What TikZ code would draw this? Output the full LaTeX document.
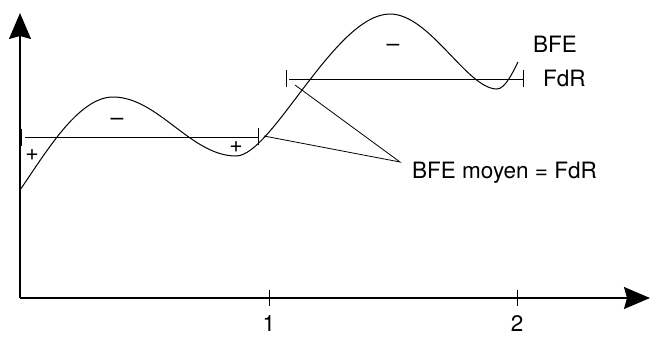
\documentclass[tikz,border=0pt]{standalone}
\usepackage{fontspec}
\setmainfont{TeX Gyre Heros}
\usetikzlibrary{arrows.meta}
\begin{document}
\begin{tikzpicture}[x=1pt,y=-1pt,
  axis/.style={line width=1.4pt,-{Stealth[length=26pt,width=22pt,inset=3pt]}},
  curve/.style={line width=1pt},
  meanline/.style={line width=1pt},
  tickmark/.style={line width=1pt},
  leader/.style={line width=0.8pt},
  lbl/.style={font=\fontsize{22.5}{26}\selectfont, inner sep=0pt},
  sign/.style={font=\fontsize{23}{26}\selectfont, inner sep=0pt}]
\useasboundingbox (0,0) rectangle (650,338);
% axes
\coordinate (O) at (20,298);
\coordinate (Ytop) at (20,13);
\coordinate (Xend) at (650,298);
\draw[axis] (O) -- (Ytop);
\draw[axis] (O) -- (Xend);
% ticks on x axis
\coordinate (t1a) at (269,290); \coordinate (t1b) at (269,306);
\coordinate (t2a) at (517,290); \coordinate (t2b) at (517,306);
\draw[tickmark] (t1a) -- (t1b);
\draw[tickmark] (t2a) -- (t2b);
\node[lbl, anchor=south] (one) at (269,332) {1};
\node[lbl, anchor=south] (two) at (517,332) {2};
% curve
\draw[curve] (20,190) .. controls (45,154) and (78,97) .. (113,97)
  .. controls (158,97) and (191,156) .. (236,156)
  .. controls (272,156) and (335,14) .. (390,14)
  .. controls (430,14) and (467,89) .. (497,89)
  .. controls (505,89) and (513,72) .. (518,62);
% lower mean line
\coordinate (La) at (25,137); \coordinate (Lb) at (258,137);
\draw[meanline] (La) -- (Lb);
\draw[tickmark] (21,129) -- (21,146);
\draw[tickmark] (258,128) -- (258,145);
% upper mean line
\coordinate (Ua) at (289,79); \coordinate (Ub) at (523,79);
\draw[meanline] (Ua) -- (Ub);
\draw[tickmark] (286,70) -- (286,87);
\draw[tickmark] (523,70) -- (523,87);
% signs
\node[sign] (m1) at (117,122) {–};
\node[sign] (p1) at (32,155) {+};
\node[sign] (p2) at (236,147) {+};
\node[sign] (m2) at (393,48) {–};
% labels
\node[lbl, anchor=base west] (bfe) at (533,52) {BFE};
\node[lbl, anchor=base west] (fdr) at (543,86) {FdR};
\node[lbl, anchor=base west] (moyen) at (412,178) {BFE moyen = FdR};
% leaders
\coordinate (conv) at (400,162);
\coordinate (s1) at (264,136);
\coordinate (s2) at (295,85);
\draw[leader] (s1) -- (conv) -- (s2);
\end{tikzpicture}
\end{document}
